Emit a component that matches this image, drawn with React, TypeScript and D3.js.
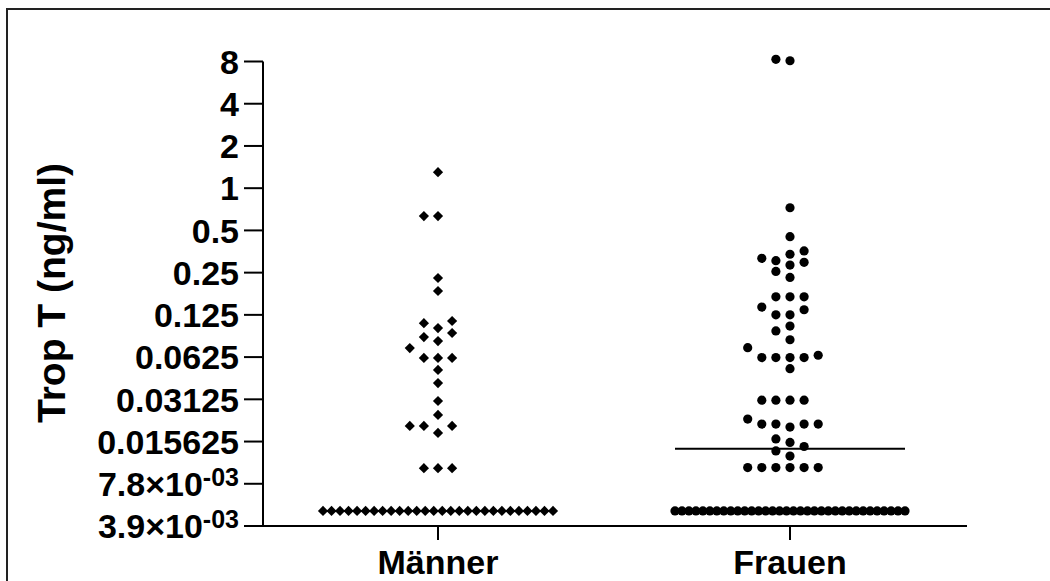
import * as d3 from "d3";

const CATEGORIES = ["Männer", "Frauen"];

// Trop T values (ng/ml); 0.005 = below detection
const maenner = [
    1.3, 0.633, 0.633, 0.229, 0.185, 0.113, 0.109, 0.1007, 0.0928, 0.0868,
    0.0813, 0.0725, 0.0616, 0.0616, 0.0616, 0.0506, 0.0408, 0.0304, 0.0242,
    0.0202, 0.0202, 0.0202, 0.018, 0.0101, 0.0101, 0.0101,
    0.005, 0.005, 0.005, 0.005, 0.005, 0.005, 0.005, 0.005, 0.005, 0.005,
    0.005, 0.005, 0.005, 0.005, 0.005, 0.005, 0.005, 0.005, 0.005, 0.005,
    0.005, 0.005, 0.005, 0.005, 0.005, 0.005, 0.005, 0.005
];

const frauen = [
    8.1, 8.29, 0.725, 0.451, 0.357, 0.338, 0.316, 0.304, 0.296, 0.283,
    0.255, 0.231, 0.168, 0.168, 0.168, 0.142, 0.136, 0.125, 0.125, 0.104,
    0.096, 0.0831, 0.0729, 0.0644, 0.062, 0.062, 0.062, 0.062, 0.0517,
    0.0308, 0.0308, 0.0308, 0.0308, 0.0226, 0.0208, 0.0208, 0.0208, 0.0208,
    0.0198, 0.0163, 0.0154, 0.0144, 0.0134, 0.0123,
    0.0102, 0.0102, 0.0102, 0.0102, 0.0102, 0.0102,
    0.005, 0.005, 0.005, 0.005, 0.005, 0.005, 0.005, 0.005, 0.005, 0.005,
    0.005, 0.005, 0.005, 0.005, 0.005, 0.005, 0.005, 0.005, 0.005, 0.005,
    0.005, 0.005, 0.005, 0.005, 0.005, 0.005, 0.005, 0.005, 0.005, 0.005,
    0.005, 0.005, 0.005, 0.005
];

const TICK_VALUES = [8, 4, 2, 1, 0.5, 0.25, 0.125, 0.0625, 0.03125, 0.015625, 0.0078125, 0.00390625];
const TICK_LABELS = ["8", "4", "2", "1", "0.5", "0.25", "0.125", "0.0625", "0.03125", "0.015625", "7.8×10^-03", "3.9×10^-03"];

const width = 1050;
const height = 581;
const font = "'Liberation Sans', Arial, sans-serif";

const x = d3.scalePoint<string>().domain(CATEGORIES).range([262, 966]).padding(0.5);
const y = d3.scaleLog().base(2).domain([0.00390625, 8]).range([526, 61.5]);

const STEP = 14.1;
const MIN_DIST = 10;
const HALF_ROW = 115;

// simple column scatter: stack points sideways when they collide
function swarm(values: number[], cx: number) {
    const sorted = [...values].sort((a, b) => a - b);
    const counts = d3.rollup(sorted, (v) => v.length, (d) => d);
    const maxPerRow = Math.floor((2 * HALF_ROW) / STEP) + 1;
    const placed: { x: number; y: number }[] = [];
    const seen = new Map<number, number>();
    for (const v of sorted) {
        const py = y(v);
        const n = counts.get(v) || 1;
        if (n > maxPerRow) {
            const i = seen.get(v) || 0;
            seen.set(v, i + 1);
            placed.push({ x: cx - HALF_ROW + (i * 2 * HALF_ROW) / (n - 1), y: py });
            continue;
        }
        for (let k = 0; k < 40; k++) {
            const slot = k === 0 ? 0 : k % 2 === 1 ? -(k + 1) / 2 : k / 2;
            const px = cx + slot * STEP;
            const hit = placed.some((p) => Math.hypot(p.x - px, p.y - py) < MIN_DIST);
            if (!hit) {
                placed.push({ x: px, y: py });
                break;
            }
        }
    }
    return placed;
}

export default function App() {
    const groups = [maenner, frauen];
    const diamond = d3.symbol(d3.symbolSquare, 52)();
    const x0 = 263;
    const axisY = y(0.00390625);

    return (
        <svg width={width} height={height} style={{ position: "absolute", left: 0, top: 0, background: "#fff" }}>
            <rect x={7} y={9} width={1100} height={700} fill="none" stroke="#222" strokeWidth={2} />

            {/* y axis */}
            <line x1={x0} x2={x0} y1={y(8)} y2={axisY} stroke="#000" strokeWidth={2} />
            {TICK_VALUES.map((t, i) => {
                const [base, exp] = TICK_LABELS[i].split("^");
                return (
                    <g key={t} transform={`translate(0,${y(t)})`}>
                        <line x1={244} x2={x0} stroke="#000" strokeWidth={2} />
                        <text x={239} dy="0.36em" textAnchor="end" fontFamily={font} fontWeight="bold" fontSize={34}>
                            {base}
                            {exp && (
                                <tspan dy="-0.4em" fontSize={25}>{exp}</tspan>
                            )}
                        </text>
                    </g>
                );
            })}
            <text transform="translate(65,293) rotate(-90)" textAnchor="middle" fontFamily={font} fontWeight="bold" fontSize={39}>
                Trop T (ng/ml)
            </text>

            {/* x axis */}
            <line x1={x0} x2={967} y1={axisY} y2={axisY} stroke="#000" strokeWidth={2} />
            {CATEGORIES.map((c) => (
                <g key={c} transform={`translate(${x(c)},0)`}>
                    <line y1={axisY} y2={axisY + 14} stroke="#000" strokeWidth={2} />
                    <text y={574} textAnchor="middle" fontFamily={font} fontWeight="bold" fontSize={34}>{c}</text>
                </g>
            ))}

            {/* points + median */}
            {groups.map((vals, gi) => {
                const cx = x(CATEGORIES[gi]) as number;
                const pts = swarm(vals, cx);
                const med = y(d3.median(vals) as number);
                return (
                    <g key={gi}>
                        <line x1={cx - HALF_ROW} x2={cx + HALF_ROW} y1={med} y2={med} stroke="#000" strokeWidth={2} />
                        {pts.map((p, i) =>
                            gi === 0 ? (
                                <path key={i} d={diamond as string} transform={`translate(${p.x},${p.y}) rotate(45)`} fill="#000" />
                            ) : (
                                <circle key={i} cx={p.x} cy={p.y} r={4.6} fill="#000" />
                            )
                        )}
                    </g>
                );
            })}
        </svg>
    );
}
